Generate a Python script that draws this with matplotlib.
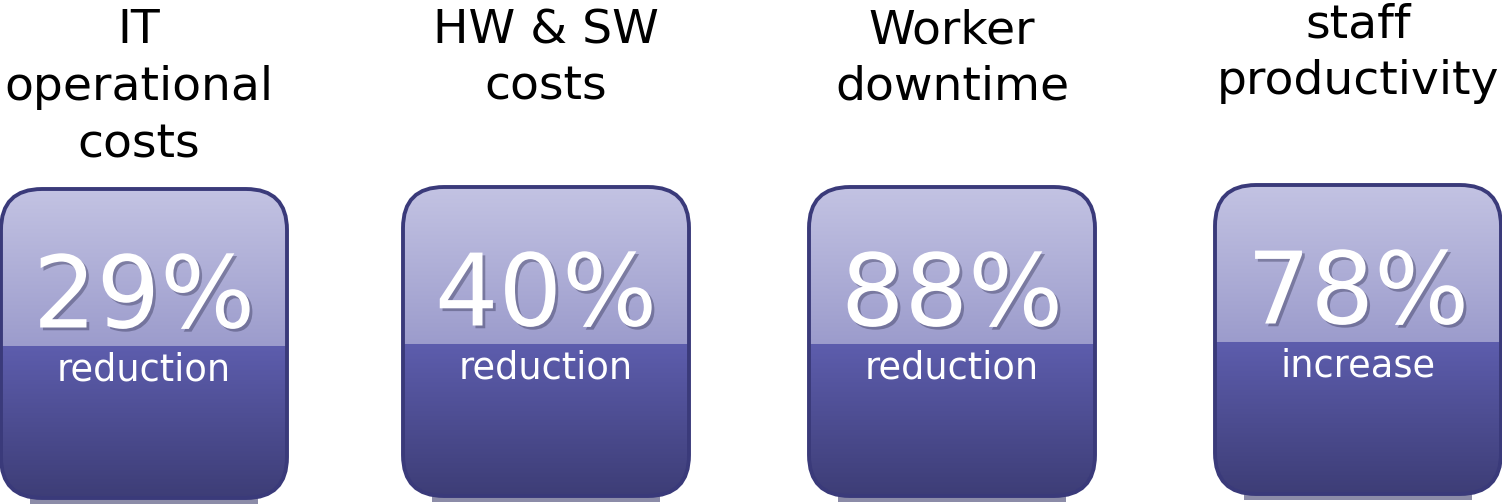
import numpy as np
import matplotlib
matplotlib.use('Agg')
import matplotlib.pyplot as plt
from matplotlib.patches import FancyBboxPatch, Rectangle
import matplotlib.patheffects as pe

# data
titles = [["IT", "operational", "costs"],
          ["HW & SW", "costs"],
          ["Worker", "downtime"],
          ["staff", "productivity"]]
values = ["29%", "40%", "88%", "78%"]
labels = ["reduction", "reduction", "reduction", "increase"]

# layout (pixels)
centers = [144, 546, 952, 1358]
title_x = [139, 546, 952, 1358]
box_tops = [188, 186, 186, 184]
title_base = [43, 43, 43, 37]
box_w = 288
box_h = 311
split = 158      # divider offset from box top
line_gap = 57

plt.rcParams['font.family'] = ['DejaVu Sans']

fig = plt.figure(figsize=(15.02, 5.04), dpi=100)
ax = fig.add_axes([0, 0, 1, 1])
ax.set_xlim(0, 1502)
ax.set_ylim(504, 0)
ax.axis('off')


def hex2rgb(h):
    return np.array([int(h[i:i + 2], 16) / 255 for i in (1, 3, 5)])


def gradient(n_top, n_bot):
    t = np.linspace(0, 1, n_top)[:, None]
    top = hex2rgb('#c3c3e3') * (1 - t) + hex2rgb('#9c9ccc') * t
    b = np.linspace(0, 1, n_bot)[:, None]
    bot = hex2rgb('#5d5dad') * (1 - b) + hex2rgb('#3d3d76') * b
    col = np.vstack([top, bot])
    return np.repeat(col[:, None, :], 4, axis=1)


for i in range(4):
    x0 = centers[i] - box_w / 2
    y0 = box_tops[i]

    # soft shadow strip under box
    ax.add_patch(Rectangle((x0 + 30, y0 + box_h - 4), box_w - 60, 9,
                           facecolor='#8c8ca8', edgecolor='none', zorder=1))

    im = ax.imshow(gradient(split, box_h - split),
                   extent=(x0, x0 + box_w, y0 + box_h, y0),
                   aspect='auto', interpolation='bilinear', zorder=3)
    clip = FancyBboxPatch((x0, y0), box_w, box_h,
                          boxstyle="round,pad=0,rounding_size=42",
                          facecolor='none', edgecolor='none', transform=ax.transData)
    im.set_clip_path(clip)

    box = FancyBboxPatch((x0 + 1, y0 + 1), box_w - 2, box_h - 2,
                         boxstyle="round,pad=0,rounding_size=41",
                         facecolor='none', edgecolor='#3a3a7a', lw=2.8,
                         zorder=4, clip_on=False)
    ax.add_patch(box)

    ax.text(centers[i], y0 + 112, values[i], ha='center', va='center',
            fontsize=72, color='white', zorder=5,
            path_effects=[pe.SimplePatchShadow(offset=(2, -2), shadow_rgbFace='#202040', alpha=0.35),
                          pe.Normal()])
    ax.text(centers[i], y0 + 182, labels[i], ha='center', va='center',
            fontsize=26.5, color='white', zorder=5)

    for j, line in enumerate(titles[i]):
        ax.text(title_x[i], title_base[i] + j * line_gap, line, ha='center',
                va='baseline', fontsize=34, color='black')

fig.savefig('out.png', dpi=100)
